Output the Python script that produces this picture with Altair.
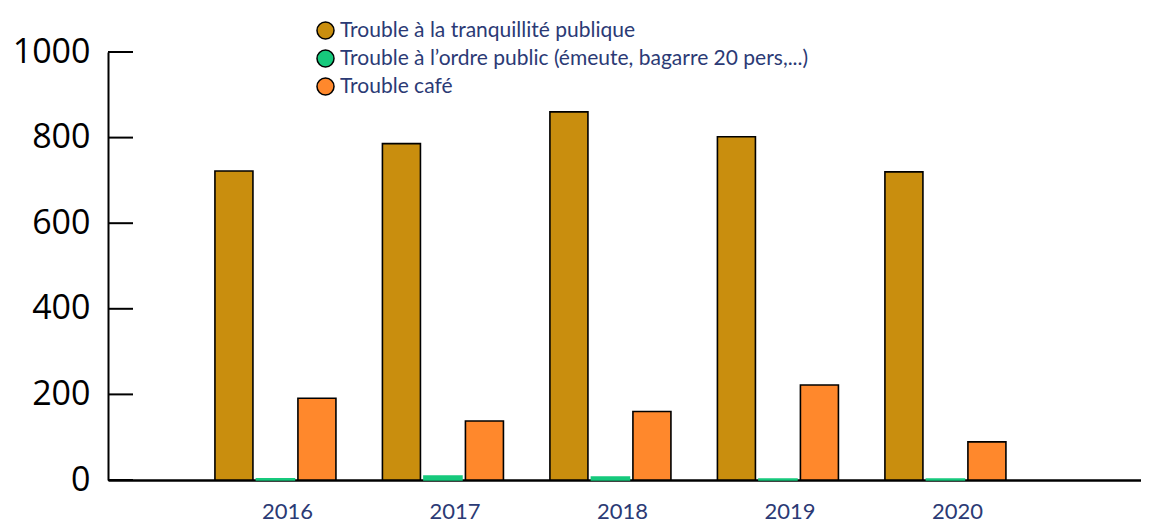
import altair as alt
import pandas as pd

years = ["2016", "2017", "2018", "2019", "2020"]
series = [
    "Trouble à la tranquillité publique",
    "Trouble à l’ordre public (émeute, bagarre 20 pers,...)",
    "Trouble café",
]
tranquillite = [722, 786, 860, 802, 720]
ordre_public = [3, 9, 7, 2, 2]
cafe = [191, 138, 160, 222, 89]
y_ticks = [0, 200, 400, 600, 800, 1000]
colors = ["#C98E0E", "#16C97C", "#FF882C"]

rows = []
for vals, s in zip([tranquillite, ordre_public, cafe], series):
    for y, v in zip(years, vals):
        rows.append({"year": y, "series": s, "value": v})
df = pd.DataFrame(rows)
ticks_df = pd.DataFrame({"t": y_ticks})

navy = "#2B3A75"

bars = alt.Chart(df).mark_bar(strokeWidth=1.6).encode(
    x=alt.X("year:N", sort=years,
            scale=alt.Scale(paddingInner=0.2567, paddingOuter=0.712, align=0.441),
            axis=alt.Axis(title=None, ticks=False, domain=True, domainColor="#000000",
                          domainWidth=2.5, labelAngle=0, labelFont="Lato", labelFontSize=22,
                          labelColor=navy, labelPadding=21, labelOffset=12)),
    xOffset=alt.XOffset("series:N", sort=series,
                        scale=alt.Scale(paddingInner=0.084, paddingOuter=0.042)),
    y=alt.Y("value:Q", scale=alt.Scale(domain=[0, 1000], nice=False),
            axis=alt.Axis(title=None, values=y_ticks, ticks=False, grid=False, format="d",
                          domainColor="#000000", domainWidth=2, labelFont="Open Sans",
                          labelFontSize=34, labelColor="#000000", labelPadding=18)),
    fill=alt.Fill("series:N", sort=series,
                  scale=alt.Scale(domain=series, range=colors),
                  legend=alt.Legend(title=None, orient="none", legendX=207, legendY=-32,
                                    symbolType="circle", symbolSize=290,
                                    symbolStrokeColor="#000000", symbolStrokeWidth=1.5,
                                    labelFont="Lato", labelFontSize=21, labelColor=navy,
                                    labelOffset=4, rowPadding=3, labelLimit=800)),
    stroke=alt.condition(alt.datum.series == series[1], alt.value(colors[1]), alt.value("#000000")),
)

tick_rules = alt.Chart(ticks_df).mark_rule(color="#000000", strokeWidth=2).encode(
    y=alt.Y("t:Q"),
    x=alt.value(0),
    x2=alt.value(25),
)

chart = alt.layer(tick_rules, bars).properties(
    width=1033, height=428,
    padding={"left": 100, "top": 44, "right": 0, "bottom": 44},
    autosize=alt.AutoSizeParams(type="none"),
).configure_view(stroke=None)

chart.save("out.html", embed_options={"renderer": "svg", "actions": False})
